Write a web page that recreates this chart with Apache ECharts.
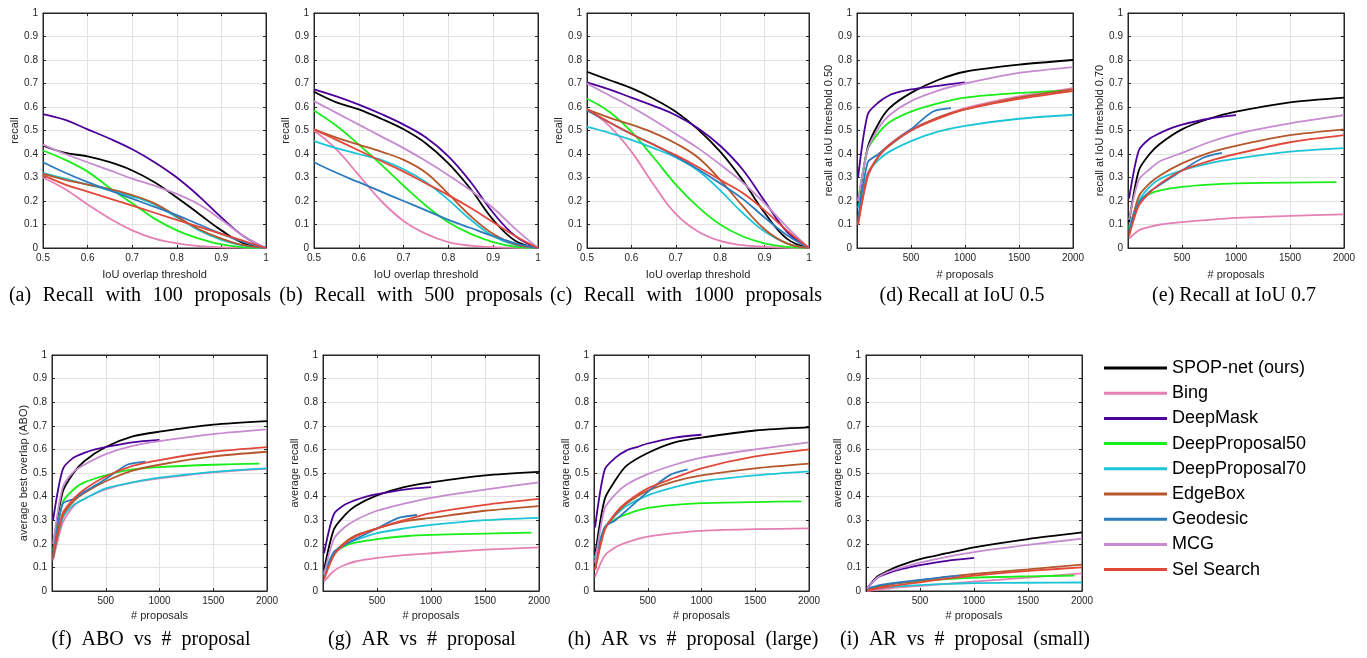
<!DOCTYPE html>
<html>
<head>
<meta charset="utf-8">
<script src="https://cdn.jsdelivr.net/npm/echarts@6/dist/echarts.min.js"></script>
<style>
html,body{margin:0;padding:0;background:#fff;}
#chart{width:1367px;height:658px;}
</style>
</head>
<body>
<div id="chart"></div>
<script>
// ---------------- DATA ----------------
const methods = ['SPOP-net (ours)', 'Bing', 'DeepMask', 'DeepProposal50', 'DeepProposal70', 'EdgeBox', 'Geodesic', 'MCG', 'Sel Search'];
const colors = ['#000000', '#e680b4', '#4c0099', '#19ee19', '#1cc5d6', '#b5562b', '#2b7bbf', '#c68bd0', '#e2483a'];

// IoU thresholds (x for panels a-c)
const iouX = [0.5, 0.55, 0.6, 0.65, 0.7, 0.75, 0.8, 0.85, 0.9, 0.95, 1.0];

// recall vs IoU, rows in method order
const recall100 = [
  [0.435, 0.405, 0.39, 0.365, 0.33, 0.28, 0.215, 0.145, 0.075, 0.02, 0],
  [0.30, 0.25, 0.185, 0.125, 0.075, 0.04, 0.02, 0.008, 0.003, 0.001, 0],
  [0.57, 0.545, 0.505, 0.465, 0.42, 0.365, 0.30, 0.22, 0.13, 0.05, 0],
  [0.415, 0.375, 0.325, 0.255, 0.19, 0.125, 0.075, 0.04, 0.015, 0.003, 0],
  [0.32, 0.295, 0.27, 0.245, 0.22, 0.185, 0.13, 0.075, 0.035, 0.01, 0],
  [0.315, 0.29, 0.27, 0.25, 0.225, 0.19, 0.135, 0.08, 0.04, 0.012, 0],
  [0.365, 0.32, 0.28, 0.245, 0.21, 0.175, 0.14, 0.10, 0.06, 0.025, 0],
  [0.44, 0.40, 0.365, 0.33, 0.295, 0.265, 0.23, 0.185, 0.12, 0.05, 0],
  [0.31, 0.27, 0.24, 0.21, 0.18, 0.15, 0.12, 0.09, 0.06, 0.03, 0]
];
const recall500 = [
  [0.665, 0.62, 0.59, 0.55, 0.505, 0.445, 0.36, 0.25, 0.12, 0.03, 0],
  [0.50, 0.42, 0.31, 0.20, 0.115, 0.06, 0.025, 0.01, 0.004, 0.001, 0],
  [0.675, 0.645, 0.61, 0.57, 0.525, 0.47, 0.39, 0.28, 0.15, 0.05, 0],
  [0.585, 0.52, 0.44, 0.355, 0.265, 0.18, 0.11, 0.06, 0.025, 0.005, 0],
  [0.455, 0.425, 0.40, 0.375, 0.335, 0.28, 0.205, 0.12, 0.05, 0.012, 0],
  [0.505, 0.47, 0.44, 0.41, 0.375, 0.32, 0.23, 0.135, 0.06, 0.015, 0],
  [0.365, 0.32, 0.28, 0.24, 0.20, 0.16, 0.12, 0.085, 0.05, 0.02, 0],
  [0.625, 0.575, 0.525, 0.475, 0.425, 0.37, 0.31, 0.245, 0.17, 0.08, 0],
  [0.505, 0.46, 0.415, 0.37, 0.325, 0.275, 0.225, 0.17, 0.11, 0.05, 0]
];
const recall1000 = [
  [0.75, 0.715, 0.68, 0.635, 0.58, 0.505, 0.41, 0.29, 0.15, 0.04, 0],
  [0.59, 0.52, 0.41, 0.27, 0.145, 0.07, 0.03, 0.012, 0.005, 0.001, 0],
  [0.705, 0.675, 0.64, 0.605, 0.565, 0.51, 0.435, 0.335, 0.20, 0.07, 0],
  [0.635, 0.58, 0.495, 0.385, 0.27, 0.175, 0.10, 0.05, 0.02, 0.005, 0],
  [0.515, 0.49, 0.46, 0.425, 0.385, 0.33, 0.245, 0.15, 0.07, 0.02, 0],
  [0.59, 0.555, 0.525, 0.49, 0.445, 0.385, 0.29, 0.18, 0.08, 0.02, 0],
  [0.585, 0.535, 0.485, 0.44, 0.39, 0.335, 0.275, 0.21, 0.13, 0.055, 0],
  [0.70, 0.65, 0.60, 0.545, 0.485, 0.425, 0.355, 0.28, 0.19, 0.09, 0],
  [0.59, 0.535, 0.485, 0.44, 0.395, 0.345, 0.29, 0.235, 0.16, 0.075, 0]
];

// # proposals (x for panels d-i), per method
const pxFull = [10, 100, 200, 300, 500, 750, 1000, 1500, 2000];
const pxDeepMask = [10, 100, 200, 300, 400, 500, 750, 1000];
const pxDP50 = [10, 100, 200, 300, 500, 750, 1000, 1500, 1930];
const pxGeodesic = [10, 100, 200, 300, 500, 700, 870];
const methodX = [pxFull, pxFull, pxDeepMask, pxDP50, pxFull, pxFull, pxGeodesic, pxFull, pxFull];

const recallIoU50 = [
  [0.18, 0.43, 0.53, 0.595, 0.66, 0.715, 0.75, 0.78, 0.80],
  [0.10, 0.30, 0.39, 0.44, 0.505, 0.555, 0.595, 0.645, 0.68],
  [0.30, 0.57, 0.62, 0.65, 0.665, 0.675, 0.69, 0.705],
  [0.20, 0.42, 0.49, 0.535, 0.58, 0.615, 0.64, 0.66, 0.67],
  [0.17, 0.32, 0.375, 0.41, 0.455, 0.495, 0.52, 0.55, 0.567],
  [0.11, 0.31, 0.39, 0.435, 0.50, 0.555, 0.59, 0.64, 0.675],
  [0.12, 0.365, 0.40, 0.44, 0.505, 0.58, 0.595],
  [0.20, 0.42, 0.51, 0.565, 0.625, 0.67, 0.70, 0.745, 0.77],
  [0.10, 0.31, 0.39, 0.44, 0.50, 0.55, 0.59, 0.635, 0.668]
];
const recallIoU70 = [
  [0.11, 0.33, 0.40, 0.445, 0.505, 0.55, 0.58, 0.62, 0.64],
  [0.04, 0.075, 0.09, 0.10, 0.11, 0.12, 0.128, 0.137, 0.143],
  [0.21, 0.415, 0.465, 0.49, 0.51, 0.525, 0.55, 0.565],
  [0.08, 0.20, 0.23, 0.245, 0.26, 0.27, 0.275, 0.278, 0.28],
  [0.09, 0.20, 0.26, 0.295, 0.33, 0.36, 0.38, 0.41, 0.425],
  [0.06, 0.22, 0.275, 0.31, 0.36, 0.405, 0.435, 0.48, 0.505],
  [0.07, 0.19, 0.24, 0.27, 0.33, 0.385, 0.405],
  [0.12, 0.29, 0.335, 0.37, 0.405, 0.45, 0.485, 0.53, 0.565],
  [0.05, 0.18, 0.235, 0.275, 0.33, 0.37, 0.40, 0.45, 0.48]
];
const abo = [
  [0.19, 0.42, 0.50, 0.55, 0.61, 0.655, 0.675, 0.705, 0.72],
  [0.13, 0.29, 0.36, 0.39, 0.43, 0.46, 0.477, 0.503, 0.518],
  [0.30, 0.515, 0.565, 0.585, 0.60, 0.61, 0.63, 0.64],
  [0.17, 0.375, 0.43, 0.46, 0.49, 0.515, 0.525, 0.535, 0.54],
  [0.14, 0.31, 0.365, 0.39, 0.435, 0.46, 0.48, 0.505, 0.52],
  [0.14, 0.32, 0.38, 0.415, 0.465, 0.51, 0.535, 0.57, 0.59],
  [0.15, 0.37, 0.39, 0.42, 0.475, 0.535, 0.548],
  [0.20, 0.44, 0.505, 0.535, 0.58, 0.615, 0.635, 0.665, 0.685],
  [0.15, 0.33, 0.39, 0.43, 0.485, 0.53, 0.555, 0.59, 0.61]
];
const arAll = [
  [0.09, 0.26, 0.32, 0.36, 0.405, 0.44, 0.46, 0.49, 0.505],
  [0.04, 0.085, 0.11, 0.125, 0.14, 0.152, 0.16, 0.175, 0.185],
  [0.16, 0.325, 0.365, 0.385, 0.40, 0.41, 0.43, 0.44],
  [0.08, 0.16, 0.19, 0.205, 0.22, 0.232, 0.238, 0.243, 0.247],
  [0.07, 0.16, 0.195, 0.215, 0.245, 0.265, 0.28, 0.30, 0.31],
  [0.06, 0.16, 0.205, 0.235, 0.265, 0.295, 0.31, 0.34, 0.36],
  [0.06, 0.165, 0.195, 0.22, 0.265, 0.31, 0.322],
  [0.07, 0.22, 0.27, 0.30, 0.34, 0.37, 0.395, 0.43, 0.46],
  [0.05, 0.15, 0.20, 0.23, 0.265, 0.30, 0.33, 0.365, 0.39]
];
const arLarge = [
  [0.15, 0.39, 0.47, 0.53, 0.585, 0.63, 0.65, 0.68, 0.693],
  [0.06, 0.15, 0.185, 0.205, 0.23, 0.245, 0.255, 0.262, 0.265],
  [0.27, 0.515, 0.565, 0.595, 0.61, 0.625, 0.65, 0.662],
  [0.14, 0.27, 0.305, 0.325, 0.352, 0.365, 0.372, 0.377, 0.38],
  [0.14, 0.27, 0.32, 0.36, 0.405, 0.44, 0.465, 0.49, 0.507],
  [0.09, 0.26, 0.325, 0.37, 0.425, 0.465, 0.49, 0.52, 0.54],
  [0.12, 0.27, 0.30, 0.34, 0.42, 0.49, 0.515],
  [0.12, 0.35, 0.41, 0.45, 0.495, 0.535, 0.565, 0.60, 0.63],
  [0.09, 0.26, 0.33, 0.375, 0.435, 0.48, 0.52, 0.57, 0.60]
];
const arSmall = [
  [0.01, 0.06, 0.085, 0.105, 0.135, 0.16, 0.185, 0.22, 0.248],
  [0.0, 0.005, 0.01, 0.015, 0.022, 0.03, 0.04, 0.057, 0.075],
  [0.01, 0.055, 0.075, 0.09, 0.10, 0.11, 0.128, 0.14],
  [0.005, 0.02, 0.027, 0.033, 0.042, 0.05, 0.057, 0.062, 0.065],
  [0.005, 0.012, 0.017, 0.02, 0.025, 0.03, 0.033, 0.035, 0.036],
  [0.005, 0.015, 0.025, 0.033, 0.045, 0.06, 0.072, 0.092, 0.112],
  [0.01, 0.022, 0.03, 0.036, 0.047, 0.058, 0.065],
  [0.01, 0.055, 0.08, 0.095, 0.12, 0.145, 0.165, 0.195, 0.222],
  [0.002, 0.01, 0.018, 0.025, 0.037, 0.052, 0.065, 0.085, 0.10]
];

const captions = [
  '(a) Recall with 100 proposals', '(b) Recall with 500 proposals', '(c) Recall with 1000 proposals',
  '(d) Recall at IoU 0.5', '(e) Recall at IoU 0.7',
  '(f) ABO vs # proposal', '(g) AR vs # proposal', '(h) AR vs # proposal (large)', '(i) AR vs # proposal (small)'
];
const yNames = ['recall', 'recall', 'recall', 'recall at IoU threshold 0.50', 'recall at IoU threshold 0.70',
  'average best overlap (ABO)', 'average recall', 'average recall', 'average recall'];
const xNames = ['IoU overlap threshold', 'IoU overlap threshold', 'IoU overlap threshold',
  '# proposals', '# proposals', '# proposals', '# proposals', '# proposals', '# proposals'];
const yTicks = [0, 1, 0.1];            // min, max, step
const iouTicks = [0.5, 1, 0.1];
const propTicks = [0, 2000, 500];

// ---------------- LAYOUT ----------------
const panelData = [recall100, recall500, recall1000, recallIoU50, recallIoU70, abo, arAll, arLarge, arSmall];
const panelKind = ['iou', 'iou', 'iou', 'prop', 'prop', 'prop', 'prop', 'prop', 'prop'];
const gridBoxes = [
  [43, 13, 223, 235], [314, 13, 224, 235], [587, 13, 222, 235], [857, 13, 216, 235], [1128, 13, 216, 235],
  [52, 355, 215, 236], [323, 355, 216, 236], [594, 355, 215, 236], [866, 355, 216, 236]
];
const capPos = [
  [140, 296], [411, 296], [686, 296], [962, 296], [1234, 296],
  [151, 640], [422, 640], [693, 640], [965, 640]
];
// word gap used in each caption (typeset spacing of the reference)
const capGap = ['\u2002\u200A', '\u2002\u200A', '\u2002\u200A', ' ', ' ', '\u2002', '\u2002', '\u2002', '\u2002'];
const yNameGap = [22, 22, 22, 21, 21, 21, 20, 20, 20];
const xNameGap = [21, 21, 21, 21, 21, 19, 19, 19, 19];

const AX = '#262626';
const GRIDC = '#e3e3e3';
const FONT = 'Liberation Sans, Arial, sans-serif';

const grids = [], xAxes = [], yAxes = [], series = [], graphics = [];
gridBoxes.forEach((b, i) => {
  grids.push({left: b[0], top: b[1], width: b[2], height: b[3], show: true, borderColor: AX, borderWidth: 1, backgroundColor: '#fff', containLabel: false});
});
for (let i = 0; i < 9; i++) {
  const t = panelKind[i] === 'iou' ? iouTicks : propTicks;
  xAxes.push({
    type: 'value', gridIndex: i, position: 'bottom', min: t[0], max: t[1], interval: t[2],
    axisLine: {show: true, onZero: false, lineStyle: {color: AX, width: 1}},
    axisTick: {show: true, inside: true, length: 3, lineStyle: {color: AX}},
    axisLabel: {fontSize: 10, color: AX, fontFamily: FONT, margin: 5,
      formatter: panelKind[i] === 'iou' ? (v => String(Math.round(v * 10) / 10)) : (v => v === 0 ? '' : String(v))},
    splitLine: {show: true, lineStyle: {color: GRIDC, width: 1}},
    name: xNames[i], nameLocation: 'middle', nameGap: xNameGap[i],
    nameTextStyle: {fontSize: 11, color: AX, fontFamily: FONT}
  });
  yAxes.push({
    type: 'value', gridIndex: i, position: 'left', min: yTicks[0], max: yTicks[1], interval: yTicks[2],
    axisLine: {show: true, onZero: false, lineStyle: {color: AX, width: 1}},
    axisTick: {show: true, inside: true, length: 3, lineStyle: {color: AX}},
    axisLabel: {fontSize: 10, color: AX, fontFamily: FONT, margin: 5,
      formatter: v => String(Math.round(v * 10) / 10)},
    splitLine: {show: true, lineStyle: {color: GRIDC, width: 1}},
    name: yNames[i], nameLocation: 'middle', nameGap: yNameGap[i], nameRotate: 90,
    nameTextStyle: {fontSize: 11, color: AX, fontFamily: FONT}
  });
}
// mirrored axes (top/right) for box ticks
for (let i = 0; i < 9; i++) {
  const t = panelKind[i] === 'iou' ? iouTicks : propTicks;
  xAxes.push({
    type: 'value', gridIndex: i, position: 'top', min: t[0], max: t[1], interval: t[2],
    axisLine: {show: true, onZero: false, lineStyle: {color: AX, width: 1}},
    axisTick: {show: true, inside: true, length: 3, lineStyle: {color: AX}},
    axisLabel: {show: false}, splitLine: {show: false}
  });
  yAxes.push({
    type: 'value', gridIndex: i, position: 'right', min: yTicks[0], max: yTicks[1], interval: yTicks[2],
    axisLine: {show: true, onZero: false, lineStyle: {color: AX, width: 1}},
    axisTick: {show: true, inside: true, length: 3, lineStyle: {color: AX}},
    axisLabel: {show: false}, splitLine: {show: false}
  });
}

for (let i = 0; i < 9; i++) {
  const rows = panelData[i];
  for (let m = 0; m < methods.length; m++) {
    const xs = panelKind[i] === 'iou' ? iouX : methodX[m];
    const vals = rows[m];
    series.push({
      type: 'line', name: methods[m], xAxisIndex: i, yAxisIndex: i,
      data: xs.map((x, k) => [x, vals[k]]),
      showSymbol: false, symbol: 'none',
      smooth: panelKind[i] === 'iou' ? 0.4 : 0.25,
      lineStyle: {color: colors[m], width: 1.8},
      itemStyle: {color: colors[m]},
      emphasis: {disabled: true},
      animation: false, z: 2
    });
  }
  graphics.push({
    type: 'text', x: capPos[i][0], y: capPos[i][1],
    style: {text: captions[i].split(' ').join(capGap[i]), fontSize: 20, fontFamily: 'Liberation Serif, Times New Roman, serif',
      fill: '#000', textAlign: 'center', textVerticalAlign: 'middle'}
  });
}

const option = {
  animation: false,
  backgroundColor: '#fff',
  grid: grids,
  xAxis: xAxes,
  yAxis: yAxes,
  series: series,
  legend: {
    data: methods, orient: 'vertical', left: 1104, top: 359, padding: 0,
    itemWidth: 63, itemHeight: 3, itemGap: 7.2, icon: 'rect',
    textStyle: {fontSize: 18, fontFamily: FONT, color: '#000', lineHeight: 18}
  },
  graphic: graphics
};

const chart = echarts.init(document.getElementById('chart'), null, {renderer: 'canvas'});
chart.setOption(option);
</script>
</body>
</html>
